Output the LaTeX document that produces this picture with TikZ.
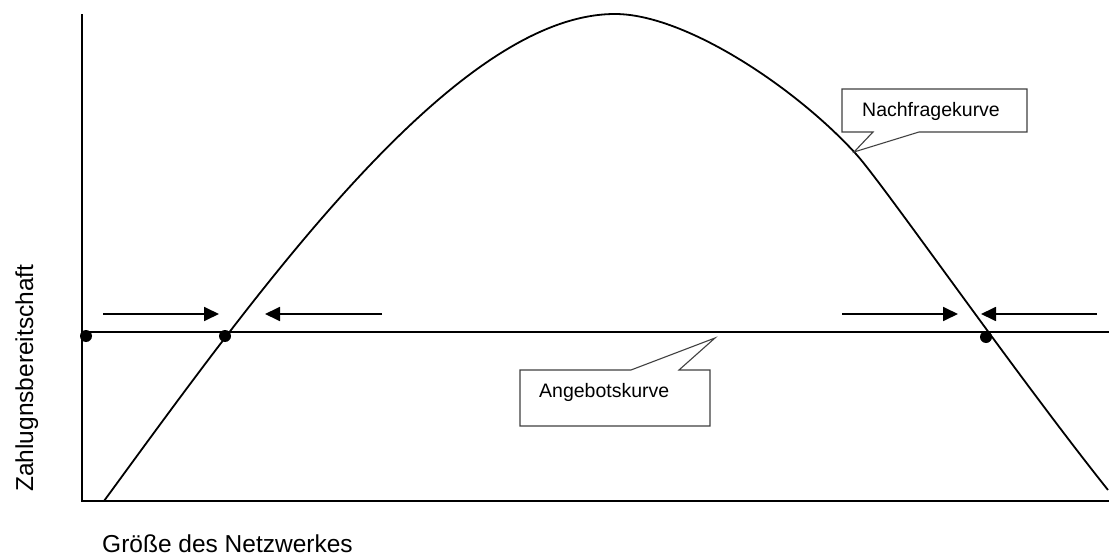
\documentclass[tikz,border=0pt]{standalone}
\usepackage{fontspec}
\setmainfont{Liberation Sans}
\usetikzlibrary{arrows.meta}
\begin{document}
\begin{tikzpicture}[x=1pt,y=-1pt,
  axisline/.style={line width=2pt,black},
  curveline/.style={line width=1.8pt,black},
  shiftarrow/.style={line width=1.8pt,-{Triangle[length=15pt,width=14pt]}},
  callout/.style={line width=1.1pt,draw=black!75,fill=white},
  dotmark/.style={circle,fill=black,inner sep=0pt,minimum size=12pt},
  lbl/.style={inner sep=0pt,font=\fontsize{19.5}{22}\selectfont},
  axlbl/.style={inner sep=0pt,font=\fontsize{24.5}{28}\selectfont}]
\useasboundingbox (0,0) rectangle (1109,556);
% axes
\coordinate (ytop) at (82,15);
\coordinate (origin) at (82,501);
\coordinate (xend) at (1109,501);
\coordinate (sL) at (82,332);
\coordinate (sR) at (1109,332);
\draw[axisline,line cap=rect] (ytop) -- (origin) -- (xend);
\draw[axisline] (sL) -- (sR);
% demand curve
\coordinate (cstart) at (104,501);
\coordinate (cpeak) at (615,14);
\coordinate (cmid) at (856,154);
\coordinate (cend) at (1108,490);
\draw[curveline] (cstart) .. controls (257.7,291) and (455,14) .. (cpeak)
  .. controls (685,14) and (795.4,87.4) .. (cmid)
  .. controls (882.9,183.6) and (1014.5,372.7) .. (cend);
% equilibrium dots
\node[dotmark] (d0) at (86,336) {};
\node[dotmark] (d1) at (225,336) {};
\node[dotmark] (d2) at (986,337) {};
% arrows
\coordinate (a1s) at (103,314); \coordinate (a1e) at (219,314);
\coordinate (a2s) at (382,314); \coordinate (a2e) at (265,314);
\coordinate (a3s) at (842,314); \coordinate (a3e) at (958,314);
\coordinate (a4s) at (1097,314); \coordinate (a4e) at (981,314);
\draw[shiftarrow] (a1s) -- (a1e);
\draw[shiftarrow] (a2s) -- (a2e);
\draw[shiftarrow] (a3s) -- (a3e);
\draw[shiftarrow] (a4s) -- (a4e);
% callouts
\draw[callout] (842,89) -- (1027,89) -- (1027,132) -- (919,132) -- (854,152) -- (873,132) -- (842,132) -- cycle;
\node[lbl,anchor=base west] (nach) at (862,117) {Nachfragekurve};
\draw[callout] (520,370) -- (631,370) -- (715,338) -- (679,370) -- (710,370) -- (710,426) -- (520,426) -- cycle;
\node[lbl,anchor=base west] (ang) at (539,397) {Angebotskurve};
% axis labels
\node[axlbl,anchor=base west] (xl) at (102,552) {Größe des Netzwerkes};
\node[axlbl,anchor=base west,rotate=90] (yl) at (33,492) {Zahlugnsbereitschaft};
\end{tikzpicture}
\end{document}
